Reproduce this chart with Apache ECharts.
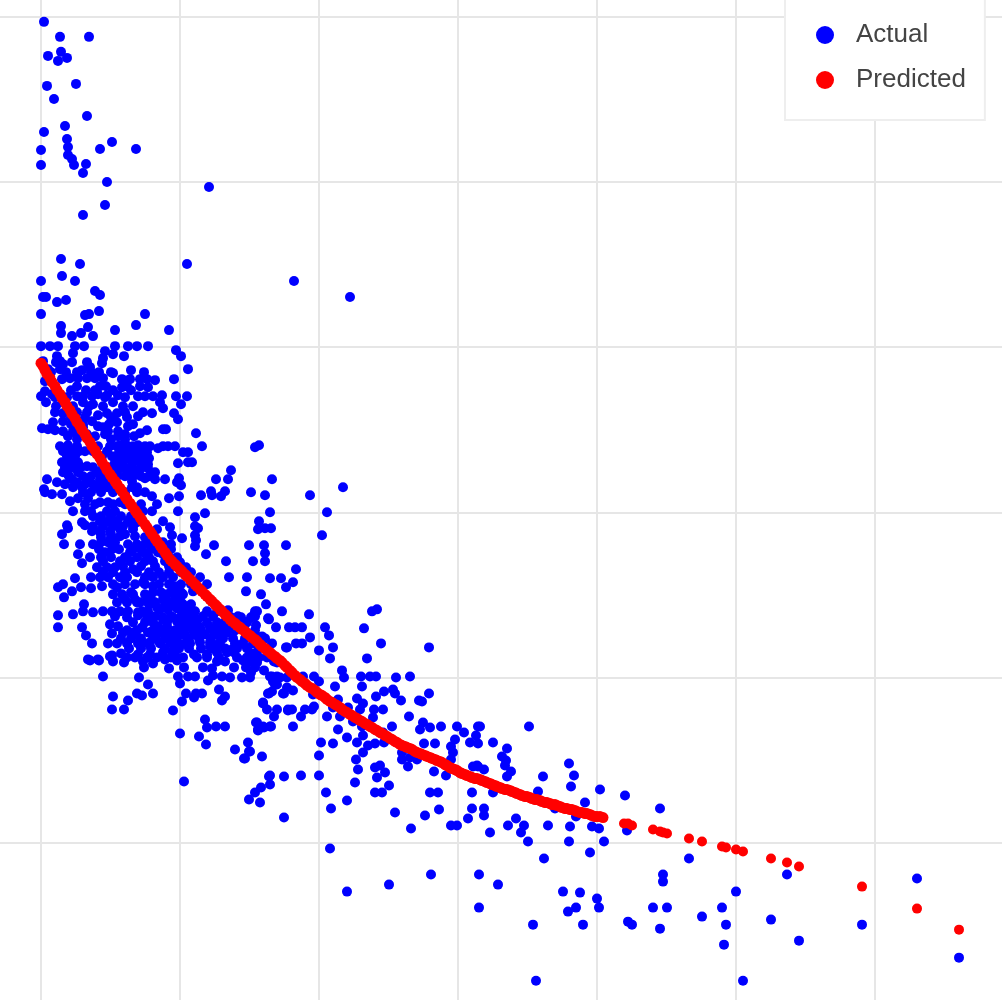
<!DOCTYPE html>
<html>
<head>
<meta charset="utf-8">
<style>html,body{margin:0;padding:0;background:#fff}#chart{width:1002px;height:1000px}</style>
<script src="https://cdn.jsdelivr.net/npm/echarts@6/dist/echarts.min.js"></script>
</head>
<body>
<div id="chart"></div>
<script>
// axes carry no labels in the picture, so units are arbitrary (one grid step = 139 in x, 165 in y)
var seriesNames = ['Actual', 'Predicted'];
var actualPoints = [
[3,820],[19,805],[48,805],[20,790],[7,786],[26,784],[17,781],[6,756],[35,758],[13,743],[46,726],[24,716],[3,710],[26,703],[27,695],[0,692],[59,693],[71,700],[95,693],[27,687],[31,683],[33,677],[45,678],[0,677],[42,669],[66,660],[168,655],[64,637],[42,627],
[20,583],[39,578],[146,578],[21,566],[253,561],[0,561],[34,561],[54,551],[59,547],[309,545],[2,545],[5,545],[16,540],[25,542],[0,528],[58,531],[104,528],[44,527],[48,528],
[20,516],[20,509],[31,506],[40,509],[47,515],[52,506],[74,512],[95,517],[128,512],
[0,496],[9,496],[17,496],[34,496],[43,496],[74,496],[87,496],[96,496],[107,496],[64,491],[135,492],[140,486],
[32,489],[16,486],[72,488],[83,486],[62,484],[61,479],[46,480],[19,481],[22,478],[31,480],[15,480],[2,481],[147,473],
[49,475],[41,472],[19,473],[7,473],[90,472],[103,470],[72,469],
[29,464],[37,464],[46,464],[54,464],[62,464],[21,463],[4,461],[81,463],[89,463],[99,463],[106,463],[114,462],[133,463],
[36,456],[59,456],[65,456],[81,455],[86,456],[99,456],[107,455],
[0,446],[4,451],[11,448],[5,440],[36,446],[42,446],[51,446],[57,448],[66,447],[77,447],[72,440],[97,446],[104,446],[112,446],[121,447],[119,440],[135,446],[146,446],[140,438],[122,434],[52,438],[42,440],[22,440],
[14,430],[22,429],[36,430],[46,430],[57,427],[66,429],[76,429],[97,426],[102,430],[111,429],[133,429],[137,423],
[12,420],[22,421],[51,421],[76,420],
[1,414],[7,413],[14,412],[22,411],[32,411],[42,415],[57,416],[62,415],[67,411],[77,411],[87,416],[106,412],[99,409],[93,406],[122,413],[125,413],
[27,406],[54,406],[77,406],
[19,396],[27,397],[36,396],[57,396],[69,396],[79,397],[87,396],[97,397],[117,394],[122,396],[127,396],[134,396],[142,390],[147,390],
[26,386],[34,386],[44,391],[61,386],[71,386],[79,388],[94,386],
[21,380],[29,380],[37,380],[46,376],[74,380],[82,380],[91,380],[99,380],[107,378],[137,379],[147,380],
[22,370],[27,368],[37,370],[56,370],[76,370],[86,371],[94,370],[114,370],
[6,363],[16,360],[31,363],[36,360],[47,363],[59,363],[67,363],[91,361],[104,364],[114,363],[124,363],[138,364],[136,360],[140,357],
[3,353],[32,355],[41,355],[56,355],[66,355],[91,355],[96,355],
[4,350],[11,348],[21,348],[29,341],[37,344],[47,344],[59,340],[67,340],[79,340],[111,346],[128,344],[138,346],
[32,331],[44,331],[50,331],[66,331],[74,331],[102,331],[111,331],[137,331],
[26,317],[27,314],[41,320],[44,317],[59,321],[67,321],[76,321],[87,321],[96,320],[122,321],
[21,308],[51,311],[59,311],[69,311],[79,313],[92,313],[116,313],[129,315],
[23,298],[39,298],[52,298],[79,306],[94,306],[131,307],[141,304],
[67,300],[87,298],[96,298],[104,298],[112,296],[130,298],
[37,288],[49,285],[41,279],[64,290],[71,293],[89,290],[102,290],[117,290],[122,288],
[62,281],[79,281],[89,281],[104,281],[112,281],[124,281],[56,275],[66,275],[74,275],[92,273],[139,280],[145,275],
[34,264],[50,265],[59,265],[67,265],[79,265],[86,265],[104,265],[112,265],[122,265],[132,265],
[17,255],[22,258],[31,251],[40,255],[50,254],[61,256],[76,255],[102,260],[112,256],[134,256],
[23,245],[72,248],[81,248],[92,248],[104,248],[112,250],[126,248],[136,248],[142,248],
[106,241],[86,240],[122,243],
[43,238],[42,231],[52,230],[17,227],[32,228],[62,231],[71,231],[79,231],[87,231],[101,231],[107,231],[116,235],[127,233],[136,234],[144,231],
[74,226],[86,225],[97,227],[122,225],[132,225],[147,225],
[17,215],[41,215],[69,218],[77,216],[101,215],[117,216],[126,216],[139,216],[147,216],
[45,207],[71,209],[82,210],[94,208],[107,210],[116,208],[129,208],[142,208],
[51,199],[67,199],[76,199],[86,199],[97,199],[107,199],[119,199],[132,199],[144,199],
[80,189],[71,187],[47,183],[57,183],[97,188],[109,188],[122,190],[134,188],
[97,230],[119,233],[146,231],[154,231],[166,231],[214,231],[241,231],[225,238],[99,240],[124,240],
[122,223],[136,221],[146,221],[156,223],[197,226],[206,220],[227,224],[212,226],
[149,216],[159,215],[169,215],[181,215],[187,215],[215,217],[235,215],
[92,210],[109,210],[124,208],[134,208],[144,208],[154,208],[164,208],[176,208],[186,210],[221,206],
[99,200],[109,200],[119,200],[129,200],[139,198],[149,199],[159,200],[169,200],[179,200],[194,199],[202,199],[212,199],[231,199],[246,195],
[69,186],[131,191],[153,188],[166,188],[176,190],[186,190],[193,190],[212,189],
[49,182],[58,182],[72,181],[83,180],[102,181],[112,179],[124,183],[136,182],[176,181],[184,181],[202,182],[212,183],[236,180],
[103,175],[128,174],[143,175],[162,175],[171,174],[193,175],[214,175],[223,172],
[62,166],[98,165],[137,166],[147,166],[154,166],[172,167],[181,166],[189,165],[201,165],[209,165],[167,162],[231,166],[239,165],[246,165],
[139,159],[107,158],[234,158],
[178,153],[96,149],[101,147],[112,149],[145,149],[153,145],[155,149],[161,149],[228,149],[243,149],[72,146],
[184,146],[181,142],[87,142],[141,141],[222,140],[71,133],[83,133],[132,132],[226,133],[236,133],[247,132],[233,126],
[164,123],[166,115],[175,116],[184,116],[215,120],[217,112],[222,116],[229,116],[139,109],[158,106],[165,98],[207,100],[208,91],[194,93],[203,84],[221,86],[228,66],[243,66],[143,61],
[155,409],[161,396],[214,395],[218,397],[151,380],[190,372],[175,363],[187,363],[231,363],[170,351],[184,351],[210,350],[160,347],[171,347],[180,346],[224,347],[269,347],[302,355],
[164,329],[229,330],[286,330],[154,325],[218,321],[154,316],[157,314],[217,313],[224,314],[230,314],[281,307],[154,307],[155,302],[154,296],[173,297],[208,297],[223,297],[245,297],[165,288],[224,289],[185,281],[212,281],[224,281],[255,273],
[159,265],[188,265],[206,265],[229,264],[240,264],[252,260],[166,258],[245,255],[152,251],[205,251],[220,248],
[268,228],[336,233],[331,231],[216,231],[214,226],[228,223],[248,215],[254,215],[261,215],[284,215],[323,214],[288,207],[269,205],[220,205],[245,195],[255,199],[261,199],[278,192],[292,195],[340,199],[289,184],[326,184],
[187,232],[176,231],[156,221],[179,216],[177,198],[169,196],[191,193],
[388,195],[209,181],[233,181],
[301,172],[303,165],[320,166],[329,166],[335,166],[355,165],[369,166],[229,166],[236,166],[262,166],[273,166],[278,161],[294,156],[321,156],[232,161],[236,158],[231,151],[227,149],[242,149],[252,152],[246,155],[352,153],[354,149],[343,151],[335,146],[316,144],[388,149],[360,142],[378,142],[381,141],[297,143],[322,139],[272,148],[222,139],[247,133],[251,133],[264,133],[273,136],[271,133],[292,135],[307,135],[319,133],[333,133],[342,133],[260,126],[286,126],[299,126],[332,125],[368,126],[216,120],[252,116],[230,116],[223,115],[217,113],[312,121],[321,116],[351,116],[382,120],[379,113],[389,115],[400,116],[416,116],[423,110],[437,116],[435,107],[297,113],[322,107],[342,110],[306,105],[414,103],[429,100],[437,99],[280,100],[292,99],[316,100],[327,97],[334,99],[343,100],[383,99],[394,99],[410,96],[209,91],[204,84],[278,87],[322,90],[315,83],[412,90],[410,83],[361,90],[361,83],[369,85],[376,83],[367,76],[339,77],[334,75],[317,73],[344,70],[336,65],[393,71],[405,67],[432,76],[437,76],[229,67],[260,67],[278,67],[229,58],[314,60],[348,57],[220,55],[214,50],[208,43],[219,40],[285,50],[334,50],[341,50],[389,50],[397,50],[431,50],[306,42],[290,34],[354,30],[384,27],[398,33],[431,34],[243,25],[427,24],[410,17],[416,17],[370,14],
[439,116],[488,116],[452,100],[466,94],[461,86],[465,82],[464,77],[470,71],[466,66],[443,73],[436,77],[528,79],[533,67],[502,66],[530,56],[559,53],[497,51],[452,50],[544,40],[514,34],[535,26],[443,34],[443,27],[475,24],[483,17],[467,17],[480,10],[507,17],[529,16],[551,16],[558,14],[449,10],[487,1],[528,1],[563,1],[549,-10],[503,-16],[289,-6],[390,-32],[438,-32],[457,-42],[348,-42],[306,-49],[522,-49],[539,-50],[556,-56],[558,-65],[438,-65],[527,-69],[535,-65],[492,-82],[542,-82],[495,-138],
[584,47],[619,34],[586,12],[648,-16],[622,-32],[622,-39],[695,-49],[746,-32],[876,-36],[612,-65],[626,-65],[661,-74],[681,-65],[685,-82],[587,-79],[591,-82],[619,-86],[683,-102],[730,-77],[758,-98],[821,-82],[918,-115],[702,-138]
];
// points inside the solid blobs, where single dots cannot be told apart
var actualDense = [
[76,396],[83,396],[92,396],[104,396],[109,396],[78,390],[85,390],[92,390],[99,390],[106,390],[76,384],[84,384],[92,384],[100,384],[108,384],[78,374],[85,374],[92,374],[100,374],[107,374],[76,366],[84,366],[92,366],[100,366],[108,366],
[22,391],[30,391],[38,391],[52,391],[66,391],[24,375],[32,375],[40,375],[52,375],[62,375],[70,375],[28,366],[42,366],[50,366],[60,366],[70,366],[24,358],[44,358],[52,358],[60,358],[72,358],
[10,470],[25,470],[36,470],[50,470],[58,470],[70,470],[30,452],[45,452],[54,452],[72,452],[90,452],[15,436],[32,436],[48,436],[62,436],[82,436],[92,436],[30,425],[44,425],[70,425],[86,425],[36,403],[48,403],[70,403],[84,403],
[52,326],[60,326],[70,326],[80,326],[90,326],[52,316],[62,316],[72,316],[82,316],[92,316],[60,308],[70,308],[84,308],
[42,350],[50,350],[60,350],[72,350],[84,350],[96,350],[104,350],[44,338],[54,338],[72,338],[84,338],[100,338],[116,338],
[58,293],[78,293],[92,293],[60,285],[70,285],[84,285],[62,270],[72,270],[84,270],[96,270],[72,258],[84,258],[94,258],[118,258],[128,258],[90,250],[120,250],[130,250],[140,250],[76,240],[96,240],[114,240],[130,240],[140,240],
[108,238],[132,238],[142,238],[150,238],[106,226],[114,226],[130,226],[140,226],[150,226],[162,226],[172,226],[92,220],[104,220],[112,220],[126,220],[144,220],[152,220],[166,220],[176,220],[184,220],
[86,212],[96,212],[112,212],[122,212],[134,212],[142,212],[152,212],[172,212],[194,212],[80,204],[90,204],[100,204],[112,204],[124,204],[136,204],[148,204],[158,204],[170,204],[182,204],[192,204],[204,204],
[88,194],[100,194],[110,194],[124,194],[138,194],[148,194],[160,194],[172,194],[184,194],[86,185],[94,185],[106,185],[116,185],[130,185],[142,185],[156,185],[166,185],[178,185],[196,185],
[210,170],[216,180],[205,175],
[60,300],[74,300],[110,300],[122,300],[100,293],[110,293],[120,293],[130,293],[96,285],[108,285],[128,285],[136,285],[108,270],[118,270],[128,270],[140,270],[150,270],[104,258],[140,258],[150,258],[84,243],[94,243],[110,243],[134,243],[60,305],[70,305],[104,305],[112,305],[82,276],[100,276],[114,276],[128,276],[134,276],
[14,445],[26,445],[64,445],[84,445],[84,430],[30,418],[42,418],[68,418],[92,418],[36,408],[46,408],[64,408],[84,408],
[190,225],[200,225],[210,225],[160,212],[182,212],[204,212],[214,212],[214,204],[224,204],[196,194],[206,194],[218,194],[206,185],[218,185],[226,185]
];
var predictedPoints = [
[0,479],[2,476],[4,472],[6,468],[9,464],[11,460],[14,456],[16,452],[19,448],[21,444],[24,440],[26,436],[29,432],[31,428],[34,424],[36,420],[39,416],[41,412],[44,408],[46,404],[49,400],[51,396],[54,392],[56,388],[59,384],[61,380],[64,376],[66,372],[69,368],[71,365],[74,361],[76,358],[79,354],[81,351],[84,346],[86,343],[89,339],[91,336],[94,332],[96,329],[99,325],[101,322],[104,318],[106,315],[109,311],[111,308],[114,304],[116,301],[119,297],[121,294],[124,290],[126,287],[129,283],[131,281],[134,278],[136,276],[139,273],[141,271],[144,268],[146,266],[149,263],[151,261],[154,258],[156,256],[159,253],[161,251],[164,248],[166,246],[169,243],[171,241],[174,238],[176,236],[179,233],[181,231],[184,228],[186,226],[189,223],[191,221],[194,219],[196,217],[199,215],[201,213],[204,211],[206,209],[209,207],[211,205],[214,203],[216,201],[219,198],[221,196],[224,194],[226,192],[229,190],[231,188],[234,186],[236,184],[239,182],[241,180],[244,177],[246,175],[249,172],[251,170],[254,167],[256,165],[259,163],[261,161],[264,159],[266,157],[269,155],[271,154],[274,152],[276,150],[279,148],[281,147],[284,145],[286,143],[289,141],[291,140],[294,138],[296,137],[299,135],[301,133],[304,131],[306,130],[309,128],[311,127],[314,125],[316,124],[319,122],[321,121],[324,119],[326,118],[329,116],[331,115],[334,113],[336,112],[339,110],[341,109],[344,107],[346,106],[349,104],[351,103],[354,101],[356,100],[359,98],[361,97],[364,96],[366,95],[369,94],[371,93],[374,91],[376,90],[379,89],[381,88],[384,87],[386,86],[389,85],[391,84],[394,83],[396,82],[399,81],[401,80],[404,78],[406,77],[409,75],[411,74],[414,73],[416,72],[419,70],[421,69],[424,68],[426,67],[429,66],[431,65],[434,64],[436,64],[439,63],[441,62],[444,61],[446,60],[449,59],[451,58],[454,57],[456,56],[459,55],[461,54],[464,53],[466,53],[469,52],[471,51],[474,50],[476,49],[479,48],[481,47],[484,46],[486,46],[489,45],[491,44],[494,43],[496,43],[499,42],[501,41],[504,40],[506,40],[509,39],[511,38],[514,38],[516,37],[519,36],[521,35],[524,34],[526,34],[529,33],[531,33],[534,32],[536,31],[539,30],[541,30],[544,29],[546,29],[549,28],[551,27],[554,26],[556,26],[559,26],[562,25]
];
var predictedTail = [
[583,19],[587,19],[591,17],[612,13],[619,11],[622,10],[626,9],[648,4],[661,1],[681,-4],[685,-5],[695,-7],[702,-9],[730,-16],[746,-20],[758,-24],[821,-44],[876,-66],[918,-87]
];

var myChart = echarts.init(document.getElementById('chart'));
var hiddenAxis = {
    type: 'value',
    axisLabel: { show: false },
    axisLine: { show: false },
    axisTick: { show: false },
    splitLine: { show: true, lineStyle: { color: '#e6e6e6', width: 2 } }
};
var predictedData = predictedPoints.map(function (p) {
    return { value: p, symbolSize: 11 };
}).concat(predictedTail);
var option = {
    backgroundColor: '#fff',
    animation: false,
    grid: { left: -98, top: -148.3, width: 1112, height: 1156, containLabel: false, outerBoundsMode: 'none' },
    xAxis: Object.assign({}, hiddenAxis, { min: -139, max: 973, interval: 139 }),
    yAxis: Object.assign({}, hiddenAxis, { min: -165, max: 990, interval: 165 }),
    legend: {
        data: seriesNames,
        orient: 'vertical',
        left: 785,
        top: -6,
        padding: [28, 19, 27, 31],
        itemGap: 19,
        itemWidth: 18,
        itemHeight: 18,
        icon: 'circle',
        backgroundColor: '#fff',
        borderColor: '#eeeeee',
        borderWidth: 2,
        textStyle: { fontFamily: 'Liberation Sans', fontSize: 26, color: '#444', padding: [2, 0, 0, 17] }
    },
    series: [
        { name: seriesNames[0], type: 'scatter', symbolSize: 10, large: false, itemStyle: { color: '#0000ff', opacity: 1 }, data: actualPoints.concat(actualDense) },
        { name: seriesNames[1], type: 'scatter', symbolSize: 10, large: false, itemStyle: { color: '#ff0000', opacity: 1 }, data: predictedData }
    ]
};
myChart.setOption(option);
</script>
</body>
</html>
